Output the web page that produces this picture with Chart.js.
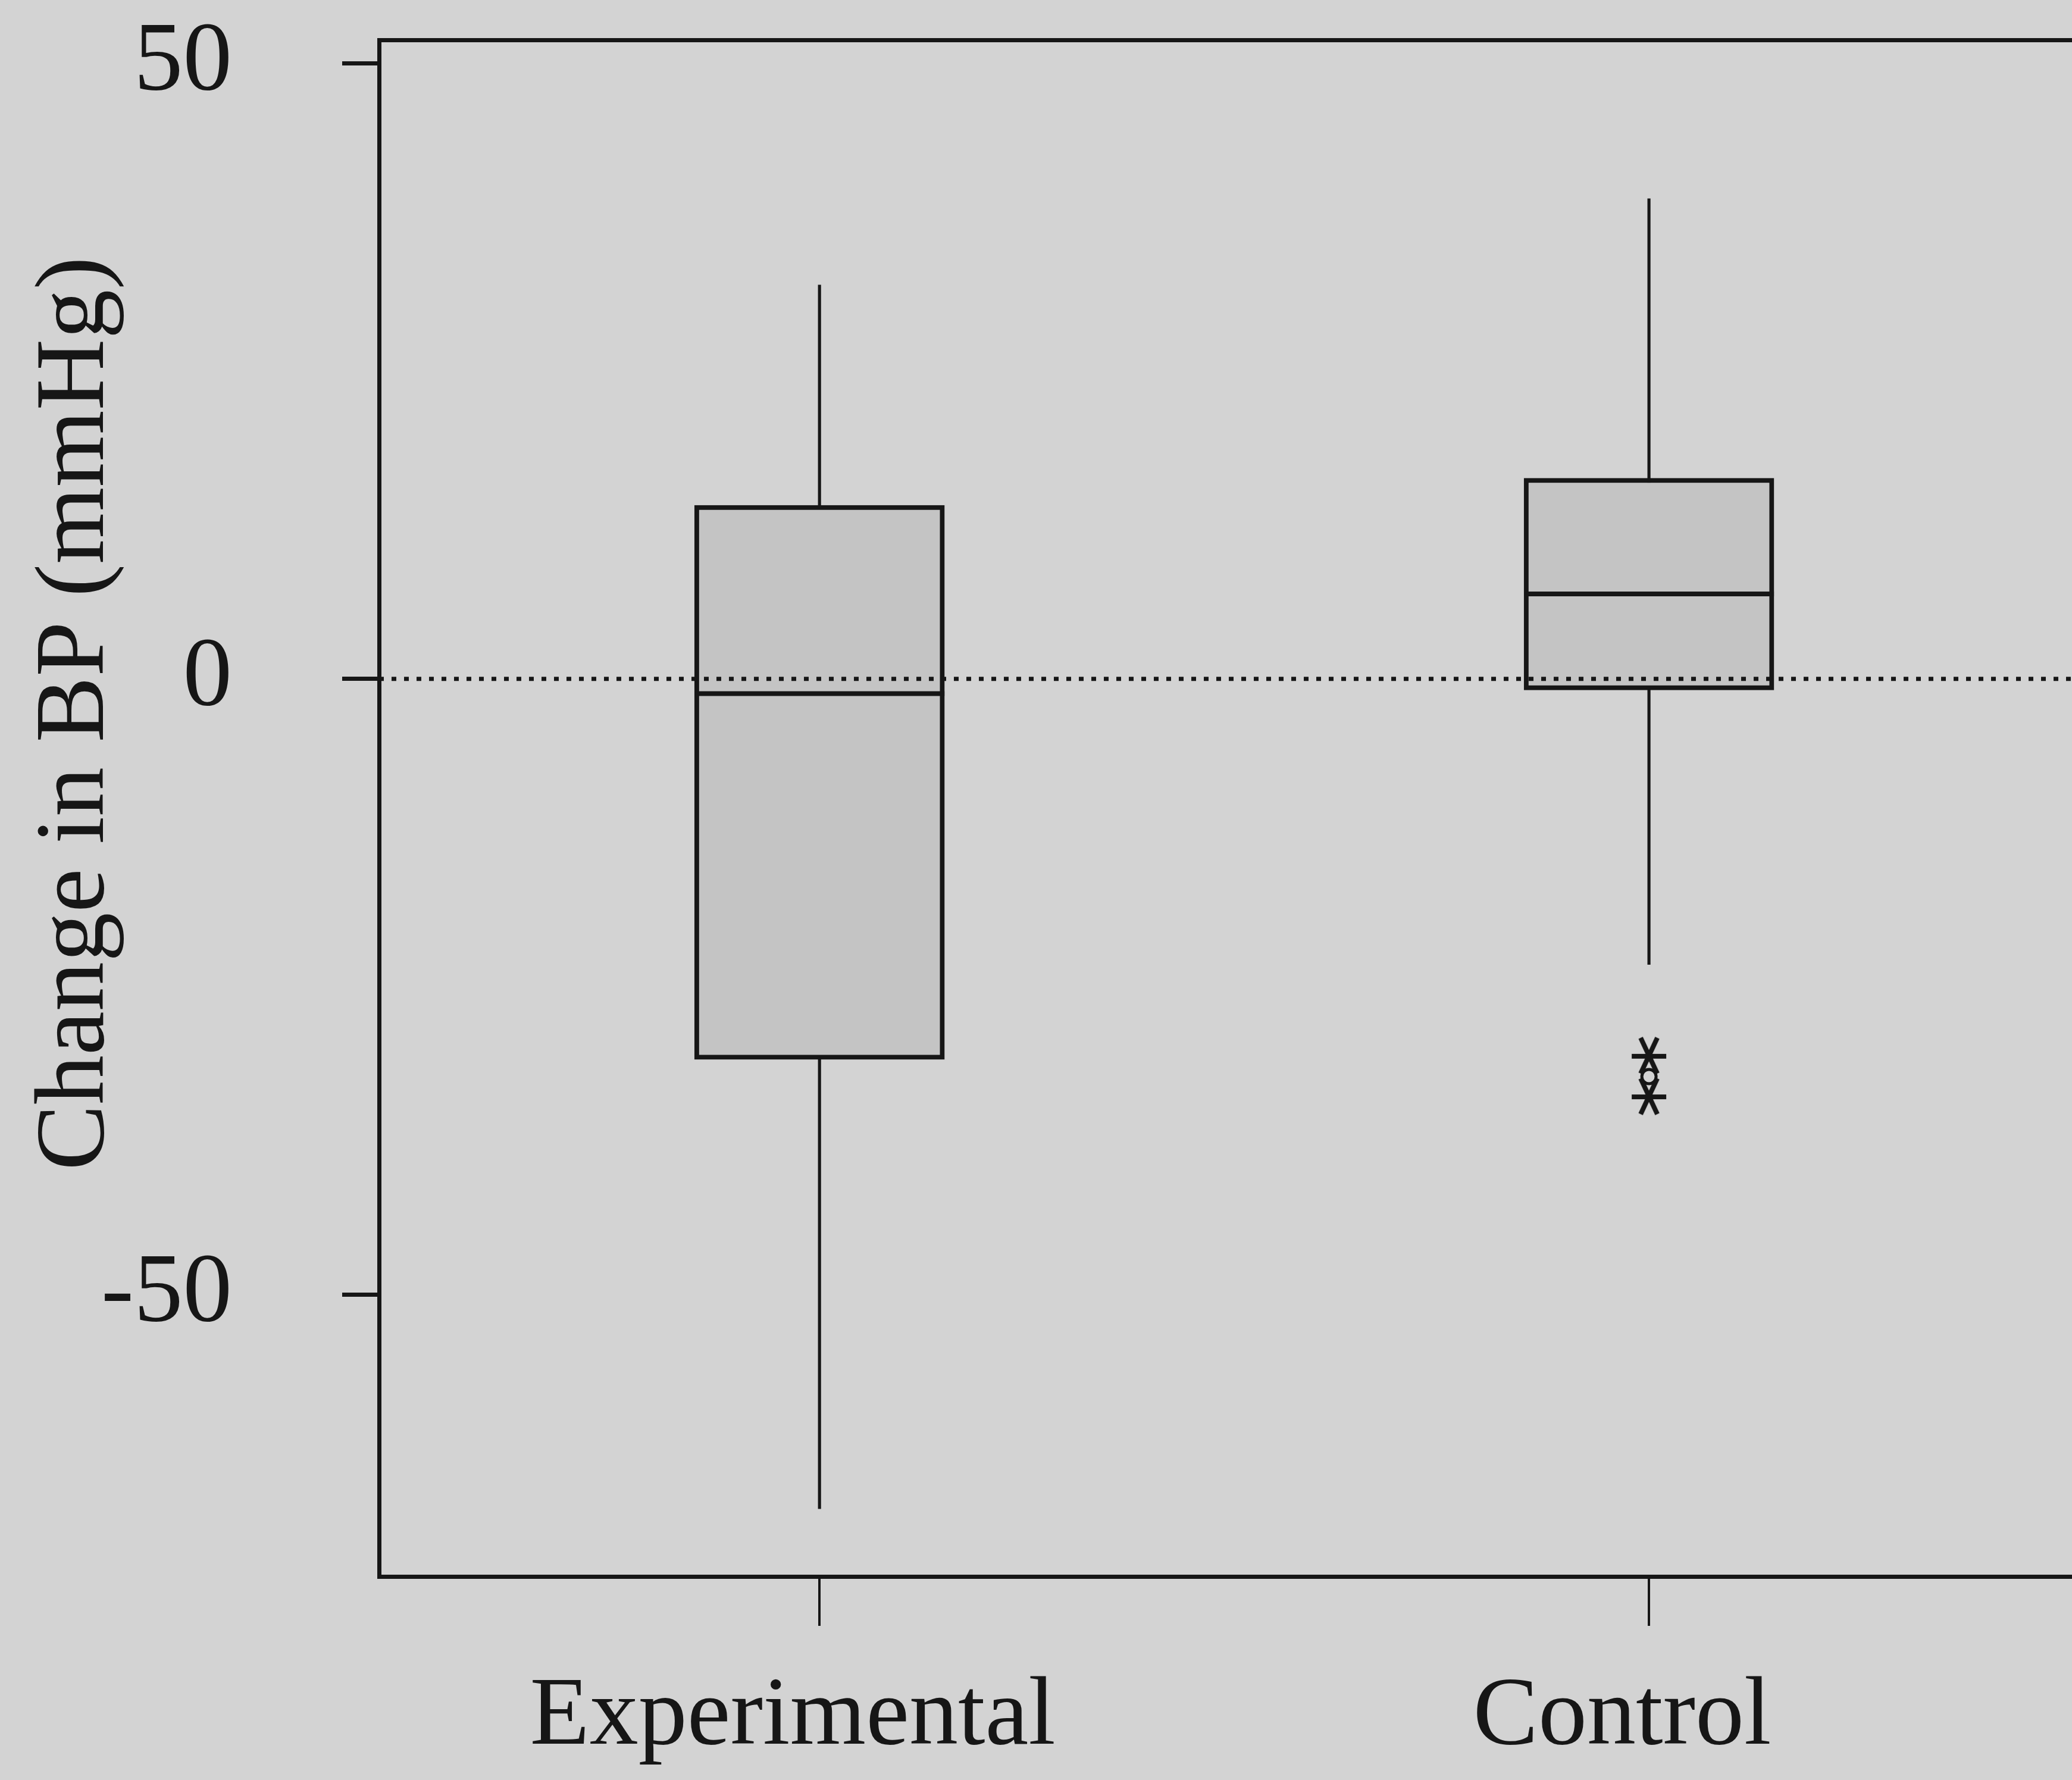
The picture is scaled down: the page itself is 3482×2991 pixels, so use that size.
<!DOCTYPE html>
<html>
<head>
<meta charset="utf-8">
<title>Change in BP</title>
<script src="https://cdn.jsdelivr.net/npm/chart.js@4.4.1/dist/chart.umd.min.js"></script>
<style>
  html, body { margin: 0; padding: 0; background: #d3d3d3; overflow: hidden; }
  #wrap { width: 3482px; height: 2991px; }
</style>
</head>
<body>
<div id="wrap"><canvas id="bpChart" width="3482" height="2991"></canvas></div>
<script>
// groups and their positions on the x scale
const groups = ["Experimental", "Control"];
const groupPos = [1, 2];

// box plot summary values (mmHg)
const whiskerLow = [-67.4, -23.2];
const boxLow = [-30.9, -0.9];
const medians = [-1.2, 6.9];
const boxHigh = [14.1, 16.3];
const whiskerHigh = [32.0, 39.0];

// extreme values (asterisks) and outlier (circle) for Control
const extremeX = [2, 2];
const extremeValues = [-30.6, -33.9];
const outlierX = [2];
const outlierValues = [-32.3];

// axes
const yTicks = [-50, 0, 50];
const yRange = [-72.9, 51.9];
const xRange = [0.469, 2.51];
const refLineY = [0, 0];

const ink = "#161616";
const serif = "'Liberation Serif', 'Times New Roman', serif";

// asterisk marker: horizontal bar with an X through it
function makeAsterisk() {
  const c = document.createElement("canvas");
  c.width = 60;
  c.height = 66;
  const g = c.getContext("2d");
  g.strokeStyle = ink;
  g.lineWidth = 8;
  g.beginPath();
  g.moveTo(1, 34); g.lineTo(59, 34);
  g.moveTo(16, 3); g.lineTo(44, 63);
  g.moveTo(44, 3); g.lineTo(16, 63);
  g.stroke();
  return c;
}

// median lines across each box
const medianLines = {
  id: "medianLines",
  afterDatasetsDraw(chart) {
    const meta = chart.getDatasetMeta(1);
    const y = chart.scales.y;
    const ctx = chart.ctx;
    ctx.save();
    ctx.strokeStyle = ink;
    ctx.lineWidth = 8;
    meta.data.forEach((bar, i) => {
      const py = y.getPixelForValue(medians[i]);
      ctx.beginPath();
      ctx.moveTo(bar.x - bar.width / 2, py);
      ctx.lineTo(bar.x + bar.width / 2, py);
      ctx.stroke();
    });
    ctx.restore();
  }
};

// vertical y axis title, placed like the original
const yTitle = {
  id: "yTitle",
  afterDraw(chart) {
    const ctx = chart.ctx;
    ctx.save();
    ctx.translate(173, 1199);
    ctx.rotate(-Math.PI / 2);
    ctx.font = "166px " + serif;
    ctx.fillStyle = ink;
    ctx.textAlign = "center";
    ctx.textBaseline = "alphabetic";
    ctx.fillText("Change in BP (mmHg)", 0, 0);
    ctx.restore();
  }
};

function noPadding(axis) {
  axis.paddingTop = 0;
  axis.paddingBottom = 0;
  axis.paddingLeft = 0;
  axis.paddingRight = 0;
}

const ctx = document.getElementById("bpChart").getContext("2d");

new Chart(ctx, {
  type: "bar",
  data: {
    datasets: [
      {
        type: "line",
        data: xRange.map((x, i) => ({ x: x, y: refLineY[i] })),
        borderColor: ink,
        borderWidth: 7,
        borderDash: [8, 13],
        pointRadius: 0,
        order: 0
      },
      {
        data: groupPos.map((x, i) => ({ x: x, y: [boxLow[i], boxHigh[i]] })),
        backgroundColor: "#c4c4c4",
        borderColor: ink,
        borderWidth: 8,
        borderSkipped: false,
        barThickness: 420,
        grouped: false,
        order: 2
      },
      {
        data: groupPos.map((x, i) => ({ x: x, y: [whiskerLow[i], whiskerHigh[i]] })),
        backgroundColor: ink,
        borderWidth: 0,
        barThickness: 4.5,
        grouped: false,
        order: 3
      },
      {
        type: "line",
        data: extremeX.map((x, i) => ({ x: x, y: extremeValues[i] })),
        showLine: false,
        pointStyle: makeAsterisk(),
        pointRadius: 30,
        order: 1
      },
      {
        type: "line",
        data: outlierX.map((x, i) => ({ x: x, y: outlierValues[i] })),
        showLine: false,
        pointStyle: "circle",
        pointRadius: 12,
        pointBorderWidth: 5,
        pointBorderColor: ink,
        pointBackgroundColor: "rgba(0,0,0,0)",
        order: 1
      }
    ]
  },
  options: {
    responsive: false,
    animation: false,
    layout: { padding: 0, autoPadding: false },
    plugins: {
      legend: { display: false },
      tooltip: { enabled: false }
    },
    scales: {
      x: {
        type: "linear",
        position: "bottom",
        offset: false,
        min: xRange[0],
        max: xRange[1],
        afterBuildTicks: axis => { axis.ticks = groupPos.map(v => ({ value: v })); },
        afterFit: axis => { axis.height = 342; noPadding(axis); },
        border: { display: true, color: ink, width: 7 },
        grid: {
          display: true,
          offset: false,
          drawOnChartArea: false,
          drawTicks: true,
          tickLength: 83,
          tickColor: ink,
          tickWidth: 4,
          lineWidth: 4
        },
        ticks: {
          callback: (value, index) => groups[index],
          color: ink,
          font: { family: serif, size: 164 },
          padding: 57,
          labelOffset: -45,
          maxRotation: 0,
          autoSkip: false
        }
      },
      xTop: {
        type: "linear",
        position: "top",
        offset: false,
        min: xRange[0],
        max: xRange[1],
        afterFit: axis => { axis.height = 67; noPadding(axis); },
        border: { display: true, color: ink, width: 7 },
        grid: { display: false, offset: false },
        ticks: { display: false }
      },
      y: {
        type: "linear",
        min: yRange[0],
        max: yRange[1],
        afterBuildTicks: axis => { axis.ticks = yTicks.map(v => ({ value: v })); },
        afterFit: axis => { axis.width = 637; noPadding(axis); },
        border: { display: true, color: ink, width: 7 },
        grid: {
          display: true,
          drawOnChartArea: false,
          drawTicks: true,
          tickLength: 62,
          tickColor: ink,
          tickWidth: 7,
          lineWidth: 7
        },
        ticks: {
          color: ink,
          font: { family: serif, size: 165 },
          padding: 185
        }
      }
    }
  },
  plugins: [medianLines, yTitle]
});
</script>
</body>
</html>
